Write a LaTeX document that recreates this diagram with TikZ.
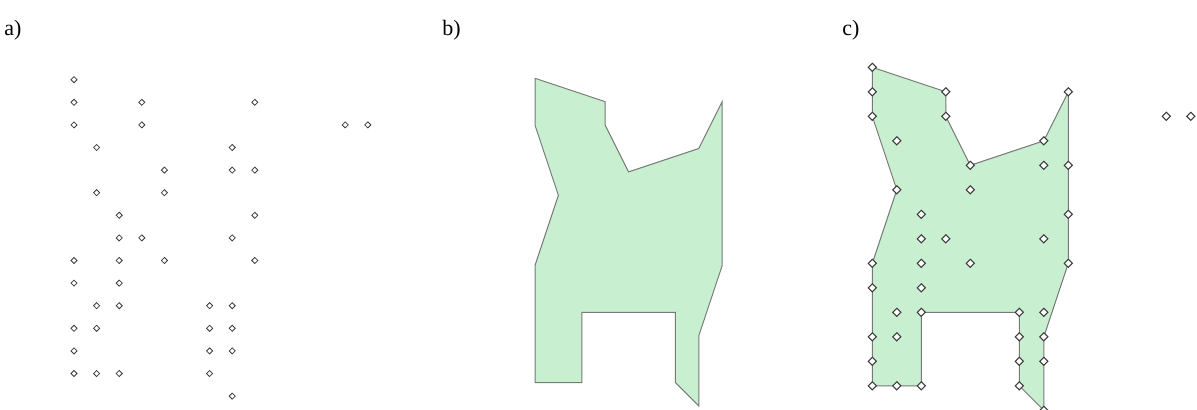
\documentclass[tikz,border=0pt]{standalone}
\usepackage{fontspec}
\setmainfont{Liberation Serif}
\usetikzlibrary{shapes.geometric,backgrounds}
\definecolor{regfill}{RGB}{200,240,208}
\definecolor{regline}{RGB}{120,120,120}
\definecolor{ptline}{RGB}{60,60,60}
\tikzset{
  ptsmall/.style={shape=diamond,draw=ptline,fill=white,line width=0.6pt,inner sep=0pt,minimum size=4.8pt},
  ptbig/.style={shape=diamond,draw=ptline,fill=white,line width=0.75pt,inner sep=0pt,minimum size=6.4pt},
  region/.style={fill=regfill,draw=regline,line width=0.75pt,line join=miter},
  panellabel/.style={anchor=base west,inner sep=0pt,font=\fontsize{16.5}{19}\selectfont}
}
\newcommand{\ptlist}{0/0,0/1,3/1,8/1,0/2,3/2,12/2,13/2,1/3,7/3,4/4,7/4,8/4,1/5,4/5,2/6,8/6,2/7,3/7,7/7,0/8,2/8,4/8,8/8,0/9,2/9,1/10,2/10,6/10,7/10,0/11,1/11,6/11,7/11,0/12,6/12,7/12,0/13,1/13,2/13,6/13,7/14}
\begin{document}
\begin{tikzpicture}[x=0.75pt,y=-0.75pt]
\useasboundingbox (0,0) rectangle (1197,410);
% labels
\node[panellabel] (la) at (4,36) {a)};
\node[panellabel] (lb) at (442,36) {b)};
\node[panellabel] (lc) at (842,36) {c)};
% panel a: point set
\foreach \i/\j in \ptlist {
  \node[ptsmall] (a-\i-\j) at ({74+22.6*\i},{79.7+22.6*\j}) {};
}
% panel b: region
\foreach \i/\j in {0/0,3/1,3/2,4/4,7/3,8/1,8/8,7/11,7/14,6/13,6/10,2/10,2/13,0/13,0/8,1/5,0/2} {
  \coordinate (b-\i-\j) at ({535+23.4*\i},{78.3+23.4*\j});
}
\draw[region] (b-0-0) -- (b-3-1) -- (b-3-2) -- (b-4-4) -- (b-7-3) -- (b-8-1) -- (b-8-8) -- (b-7-11) -- (b-7-14) -- (b-6-13) -- (b-6-10) -- (b-2-10) -- (b-2-13) -- (b-0-13) -- (b-0-8) -- (b-1-5) -- (b-0-2) -- cycle;
% panel c: points and region
\foreach \i/\j in \ptlist {
  \node[ptbig] (c-\i-\j) at ({872.3+24.5*\i},{67.3+24.5*\j}) {};
}
\begin{pgfonlayer}{background}
\draw[region] (c-0-0.center) -- (c-3-1.center) -- (c-3-2.center) -- (c-4-4.center) -- (c-7-3.center) -- (c-8-1.center) -- (c-8-8.center) -- (c-7-11.center) -- (c-7-14.center) -- (c-6-13.center) -- (c-6-10.center) -- (c-2-10.center) -- (c-2-13.center) -- (c-0-13.center) -- (c-0-8.center) -- (c-1-5.center) -- (c-0-2.center) -- cycle;
\end{pgfonlayer}
\end{tikzpicture}
\end{document}
